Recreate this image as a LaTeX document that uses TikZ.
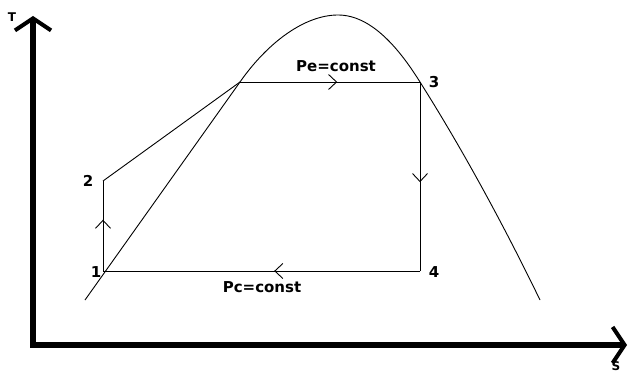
\documentclass[tikz,border=0pt]{standalone}
\usepackage{fontspec}
\setmainfont{DejaVu Sans}
\usetikzlibrary{arrows.meta,decorations.markings}
\tikzset{
  axis/.style={line width=6pt,line join=miter,
    {Straight Barb[length=12pt,width=36pt,line width=4pt]}-{Straight Barb[length=12pt,width=36pt,line width=4pt]}},
  process/.style={line width=0.9pt},
  midarrow/.style={process,postaction={decorate},
    decoration={markings,mark=at position #1 with {\arrow{Straight Barb[length=8pt,width=15pt,line width=0.9pt]}}}},
  statelbl/.style={font=\bfseries\fontsize{15}{15}\selectfont,inner sep=0pt},
}
\begin{document}
\begin{tikzpicture}[x=1pt,y=-1pt]
\useasboundingbox (0,0) rectangle (631,374);
% axes
\coordinate (o) at (33,345);
\coordinate (tmax) at (33,16);
\coordinate (smax) at (627,345);
\draw[axis] (tmax) -- (o) -- (smax);
\node[font=\bfseries\fontsize{12}{12}\selectfont] (tlbl) at (12,17) {T};
\node[font=\bfseries\fontsize{12}{12}\selectfont] (slbl) at (616,366) {S};
% saturation dome
\coordinate (domel) at (85,300);
\coordinate (sv) at (240,82);
\coordinate (peak) at (338,15);
\coordinate (domer) at (540,300);
% cycle states
\coordinate (s1) at (103,271);
\coordinate (s2) at (103,181);
\coordinate (s3) at (420,82);
\coordinate (s4) at (420,271);
\draw[process] (domel) -- (sv) .. controls (268,42) and (305,15) .. (peak)
  .. controls (372,15) and (400,50) .. (s3) .. controls (468,158) and (510,238) .. (domer);
\draw[midarrow=0.57] (s1) -- (s2);
\draw[process] (s2) -- (sv);
\draw[midarrow=0.54] (sv) -- (s3);
\draw[midarrow=0.53] (s3) -- (s4);
\draw[midarrow=0.46] (s4) -- (s1);
\node[statelbl] (l1) at (96,272) {1};
\node[statelbl] (l2) at (88,181) {2};
\node[statelbl] (l3) at (434,82) {3};
\node[statelbl] (l4) at (434,272) {4};
\node[statelbl] (pe) at (336,66) {Pe=const};
\node[statelbl] (pc) at (262,287) {Pc=const};
\end{tikzpicture}
\end{document}
